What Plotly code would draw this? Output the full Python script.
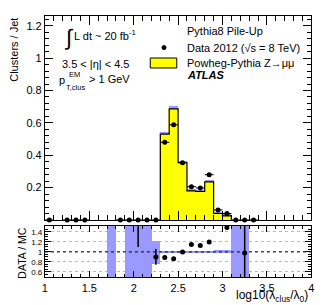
import numpy as np
import plotly.graph_objects as go

# ---------------- data ----------------
mc_x = [2.35, 2.45, 2.55, 2.65, 2.75, 2.85, 2.95, 3.05]
mc_y = [0.53, 0.686, 0.354, 0.18, 0.176, 0.235, 0.04, 0.025]
mc_err = [0.008, 0.008, 0.006, 0.005, 0.005, 0.006, 0.003, 0.003]

data_x = [1.05, 1.25, 1.35, 1.45, 1.85, 1.95, 2.05, 2.15, 2.25, 2.35, 2.45,
          2.55, 2.65, 2.75, 2.85, 2.95, 3.05, 3.15, 3.25, 3.35]
data_y = [0, 0, 0, 0, 0, 0, 0, 0, 0, 0.48, 0.588, 0.354, 0.206, 0.198, 0.28,
          0.062, 0.04, 0, 0, 0]
data_err = [0, 0, 0, 0, 0, 0, 0, 0, 0, 0.008, 0.009, 0.007, 0.006, 0.006,
            0.007, 0.004, 0.003, 0, 0, 0]

ratio_x = [2.05, 2.25, 2.35, 2.45, 2.55, 2.65, 2.75, 2.85, 3.05, 3.25]
ratio_y = [1.9, 0.9, 0.89, 0.86, 1.0, 1.15, 1.13, 1.2, 1.49, 0.98]
ratio_err = [0.8, 0.16, 0.02, 0.02, 0.02, 0.025, 0.025, 0.025, 0.05, 1.0]

band_x = [1.75, 1.95, 2.05, 2.15, 2.25, 2.35, 2.45, 2.55, 2.65, 2.75, 2.85,
          2.95, 3.05, 3.15, 3.25]
band_lo = [0, 0, 0, 0, 0.76, 0.99, 0.99, 0.99, 0.99, 0.99, 0.99, 0.97, 0.97, 0, 0]
band_hi = [2, 2, 2, 2, 1.22, 1.01, 1.01, 1.01, 1.01, 1.01, 1.01, 1.03, 1.03, 2, 2]

bin_w = 0.1
x_ticks = [1, 1.5, 2, 2.5, 3, 3.5, 4]
x_tick_text = ["1", "1.5", "2", "2.5", "3", "3.5", "4"]
main_y_ticks = [0.2, 0.4, 0.6, 0.8, 1.0, 1.2]
main_y_text = ["0.2", "0.4", "0.6", "0.8", "1", "1.2"]
ratio_y_ticks = [0.6, 0.8, 1.0, 1.2, 1.4]
ratio_y_text = ["0.6", "0.8", "1", "1.2", "1.4"]

# ---------------- helpers ----------------
W, H = 329, 305
FONT = "Liberation Sans, Arial, sans-serif"
BLUE = "#9999ff"


def px(x):
    return x / W


def py(y):
    return 1 - y / H


mc_x_arr = np.array(mc_x)
mc_y_arr = np.array(mc_y)
mc_err_arr = np.array(mc_err)
step_x = np.concatenate([[mc_x_arr[0] - bin_w / 2], mc_x_arr - bin_w / 2,
                         [mc_x_arr[-1] + bin_w / 2]])
step_y = np.concatenate([[0], mc_y_arr, [0]])

fig = go.Figure()

# MC fill
fig.add_trace(go.Bar(x=mc_x, y=mc_y, width=bin_w, marker=dict(color="#ffff00",
                     line=dict(width=0.6, color="#ffff00")),
                     xaxis="x", yaxis="y", showlegend=False))
# MC uncertainty band
fig.add_trace(go.Bar(x=mc_x, y=2 * mc_err_arr, base=mc_y_arr, width=bin_w,
                     marker=dict(color=BLUE, line=dict(width=0)),
                     xaxis="x", yaxis="y", showlegend=False))
# MC outline
fig.add_trace(go.Scatter(x=step_x, y=step_y, mode="lines", line_shape="hv",
                         line=dict(color="black", width=1.2),
                         xaxis="x", yaxis="y", showlegend=False))
# Data
fig.add_trace(go.Scatter(x=data_x, y=data_y, mode="markers",
                         marker=dict(color="black", size=5),
                         error_x=dict(type="constant", value=bin_w / 2, width=0,
                                      color="black", thickness=1),
                         error_y=dict(type="data", array=data_err, width=0,
                                      color="black", thickness=1),
                         cliponaxis=False,
                         xaxis="x", yaxis="y", showlegend=False))

# Ratio band
fig.add_trace(go.Bar(x=band_x, y=np.array(band_hi) - np.array(band_lo),
                     base=band_lo, width=bin_w,
                     marker=dict(color=BLUE, line=dict(width=0)),
                     xaxis="x2", yaxis="y2", showlegend=False))
# Ratio points
fig.add_trace(go.Scatter(x=ratio_x, y=ratio_y, mode="markers",
                         marker=dict(color="black", size=5),
                         error_y=dict(type="data", array=ratio_err, width=0,
                                      color="black", thickness=1.5),
                         cliponaxis=True,
                         xaxis="x2", yaxis="y2", showlegend=False))

common = dict(showline=True, linecolor="black", linewidth=1, mirror="allticks",
              ticks="inside", tickcolor="black", showgrid=False, zeroline=False)

fig.update_layout(
    width=W, height=H,
    margin=dict(l=0, r=0, t=0, b=0),
    paper_bgcolor="white", plot_bgcolor="white",
    barmode="overlay", bargap=0,
    font=dict(family=FONT, color="black", size=11),
    xaxis=dict(domain=[px(42.7), px(314)], range=[1, 4], anchor="y",
               tickvals=x_ticks, showticklabels=False, ticklen=9,
               minor=dict(ticks="inside", dtick=0.1, tick0=1, ticklen=5,
                          tickcolor="black"),
               **common),
    yaxis=dict(domain=[py(220), py(16)], range=[0, 1.26], anchor="x",
               tickvals=main_y_ticks, ticktext=main_y_text, ticklen=8,
               tickfont=dict(size=11),
               minor=dict(ticks="inside", dtick=0.04, tick0=0, ticklen=4,
                          tickcolor="black"),
               **common),
    xaxis2=dict(domain=[px(42.7), px(314)], range=[1, 4], anchor="y2",
                tickvals=x_ticks, ticktext=x_tick_text, ticklen=6,
                tickfont=dict(size=11),
                minor=dict(ticks="inside", dtick=0.1, tick0=1, ticklen=3,
                           tickcolor="black"),
                **common),
    yaxis2=dict(domain=[py(277.3), py(226)], range=[0.49, 1.52], anchor="x2",
                tickvals=ratio_y_ticks, ticktext=ratio_y_text, ticklen=6,
                tickfont=dict(size=8),
                minor=dict(ticks="inside", dtick=0.05, tick0=0, ticklen=3,
                           tickcolor="black"),
                showline=True, linecolor="black", linewidth=1, mirror="allticks",
                ticks="inside", tickcolor="black", zeroline=False,
                showgrid=True, gridcolor="#bbbbbb", griddash="dot", gridwidth=1),
)

# dotted line at 1 in ratio
fig.add_shape(type="line", xref="x2", yref="y2", x0=1, x1=4, y0=1, y1=1,
              line=dict(color="black", width=1, dash="dot"), layer="above")

# legend items
fig.add_shape(type="circle", xref="paper", yref="paper",
              x0=px(161.5), x1=px(166.5), y0=py(50), y1=py(45),
              fillcolor="black", line=dict(width=0))
fig.add_shape(type="rect", xref="paper", yref="paper",
              x0=px(150), x1=px(177), y0=py(68), y1=py(58),
              fillcolor="#ffff00", line=dict(color="black", width=1))

ann = []


def text(x, y, t, size=11, xanchor="left", yanchor="middle", **kw):
    ann.append(dict(x=px(x), y=py(y), xref="paper", yref="paper", text=t,
                    showarrow=False, xanchor=xanchor, yanchor=yanchor,
                    font=dict(size=size, family=FONT, color="black"), **kw))


text(185, 31, "Pythia8 Pile-Up")
text(185, 47.5, "Data 2012 (√s = 8 TeV)")
text(185, 62.5, "Powheg-Pythia Z→μμ")
text(185, 75, "<b><i>ATLAS</i></b>")

text(60, 37, "∫", size=22)
text(70, 35, "L dt ~ 20 fb<sup>-1</sup>")
text(58, 64, "3.5 < |η| < 4.5")
text(55, 79.5, "p")
text(65, 74.5, "EM", size=7.5)
text(62.5, 87, "T,clus", size=7.5)
text(86, 78.5, "> 1 GeV")

text(11, 16, "Clusters / Jet", size=11, xanchor="center", yanchor="top",
     textangle=-90)
text(19, 253, "DATA / MC", size=10.5, xanchor="center", yanchor="middle",
     textangle=-90)
text(313, 296, "log10(λ<sub>clus</sub>/λ<sub>0</sub>)", size=12,
     xanchor="right")

fig.update_layout(annotations=ann)

fig.write_html("out.html",
               config={"displayModeBar": False},
               post_script="document.body.style.margin='0';"
                           "document.body.style.padding='0';")
